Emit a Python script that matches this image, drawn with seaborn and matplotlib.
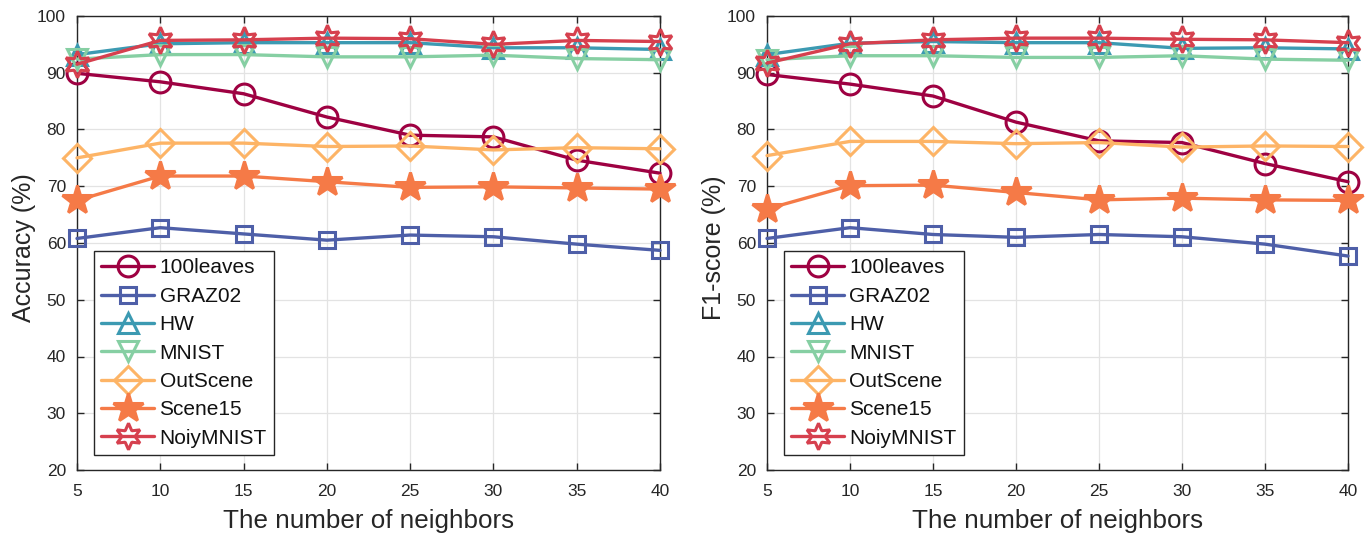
import numpy as np
import pandas as pd
import matplotlib
matplotlib.use("Agg")
import matplotlib.pyplot as plt
import seaborn as sns

# Number of neighbors on the x axis
neighbors = [5, 10, 15, 20, 25, 30, 35, 40]

datasets = ["100leaves", "GRAZ02", "HW", "MNIST", "OutScene", "Scene15", "NoiyMNIST"]

# Accuracy (%) per dataset
acc_100leaves = [89.9, 88.4, 86.3, 82.2, 79.0, 78.7, 74.6, 72.3]
acc_graz02    = [60.8, 62.7, 61.6, 60.5, 61.4, 61.1, 59.8, 58.7]
acc_hw        = [93.2, 95.1, 95.3, 95.3, 95.3, 94.4, 94.4, 94.1]
acc_mnist     = [92.4, 93.2, 93.2, 92.8, 92.8, 93.1, 92.5, 92.3]
acc_outscene  = [75.0, 77.6, 77.6, 77.0, 77.1, 76.4, 76.8, 76.6]
acc_scene15   = [67.5, 71.8, 71.8, 70.8, 69.8, 69.9, 69.7, 69.5]
acc_noiy      = [91.5, 95.7, 95.8, 96.1, 96.0, 95.0, 95.7, 95.5]

# F1-score (%) per dataset
f1_100leaves = [89.7, 88.0, 85.9, 81.3, 78.0, 77.7, 74.0, 70.8]
f1_graz02    = [60.8, 62.7, 61.5, 61.0, 61.5, 61.1, 59.8, 57.7]
f1_hw        = [93.2, 95.2, 95.5, 95.3, 95.3, 94.3, 94.4, 94.2]
f1_mnist     = [92.3, 93.0, 93.0, 92.7, 92.7, 93.0, 92.4, 92.2]
f1_outscene  = [75.4, 77.9, 77.9, 77.5, 77.7, 76.9, 77.1, 77.0]
f1_scene15   = [66.0, 70.1, 70.2, 68.9, 67.6, 67.9, 67.6, 67.5]
f1_noiy      = [91.7, 95.1, 95.8, 96.1, 96.1, 95.9, 95.8, 95.3]

accuracy = [acc_100leaves, acc_graz02, acc_hw, acc_mnist, acc_outscene, acc_scene15, acc_noiy]
f1score = [f1_100leaves, f1_graz02, f1_hw, f1_mnist, f1_outscene, f1_scene15, f1_noiy]

colors = ["#9E0142", "#4E5FA8", "#3C9AB2", "#86CFA3", "#FDB466", "#F57A47", "#D6404E"]
markers = ["o", "s", "^", "v", "D", "*", (6, 1, 0)]
msizes = [15, 12, 15, 15, 14, 22, 19]
filled = [False, False, False, False, False, True, False]

sns.set_theme(style="white")
plt.rcParams["font.family"] = ["Liberation Sans", "DejaVu Sans"]

fig = plt.figure(figsize=(13.69, 5.35), dpi=100)
ax1 = fig.add_axes([77 / 1369, 65 / 535, 583 / 1369, 454 / 535])
ax2 = fig.add_axes([767 / 1369, 65 / 535, 581 / 1369, 454 / 535])


def draw_panel(ax, values, ylabel):
    rows = []
    for name, vals in zip(datasets, values):
        for k, v in zip(neighbors, vals):
            rows.append({"neighbors": k, "score": v, "dataset": name})
    df = pd.DataFrame(rows)
    for i, name in enumerate(datasets):
        sub = df[df["dataset"] == name]
        sns.lineplot(
            data=sub, x="neighbors", y="score", ax=ax, label=name,
            color=colors[i], linewidth=2.4, marker=markers[i],
            markersize=msizes[i],
            markerfacecolor=colors[i] if filled[i] else "none",
            markeredgecolor=colors[i], markeredgewidth=2.2,
            zorder=3 + i, clip_on=False,
        )
    ax.set_xlim(5, 40)
    ax.set_ylim(20, 100)
    ax.set_xticks(neighbors)
    ax.set_yticks(np.arange(20, 101, 10))
    ax.grid(True, color="#e3e3e3", linewidth=0.9)
    ax.set_axisbelow(True)
    for sp in ax.spines.values():
        sp.set_color("#262626")
        sp.set_linewidth(1.0)
        sp.set_visible(True)
        sp.set_zorder(2)
    ax.tick_params(axis="both", direction="in", length=5, width=1.0,
                   colors="#262626", labelsize=12.5, top=True, right=True,
                   bottom=True, left=True)
    ax.tick_params(axis="x", pad=10)
    ax.tick_params(axis="y", pad=8)
    ax.set_xlabel("The number of neighbors", fontsize=18.7, color="#262626", labelpad=7)
    ax.set_ylabel(ylabel, fontsize=18, color="#262626")
    ax.yaxis.set_label_coords(-0.071, 0.49)
    leg = ax.legend(loc="lower left", bbox_to_anchor=(0.029, 0.033), fontsize=15,
                    frameon=True, fancybox=False, framealpha=1,
                    edgecolor="#262626", handlelength=2.55, handletextpad=0.25,
                    labelspacing=0.45, borderpad=0.35, borderaxespad=0.0)
    leg.get_frame().set_linewidth(1.0)
    leg.set_zorder(20)
    for t in leg.get_texts():
        t.set_color("#111111")


draw_panel(ax1, accuracy, "Accuracy (%)")
draw_panel(ax2, f1score, "F1-score (%)")

fig.savefig("out.png", dpi=100)
